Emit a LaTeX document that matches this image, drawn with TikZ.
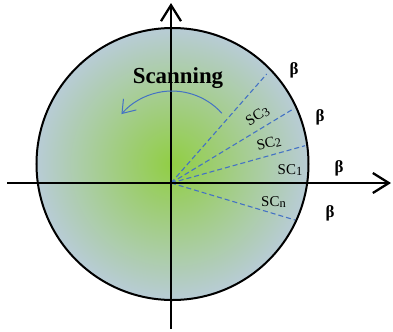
\documentclass[tikz,border=0pt]{standalone}
\usepackage{fontspec}
\setmainfont{Liberation Serif}
\usetikzlibrary{arrows.meta}
\definecolor{scanblue}{HTML}{4472C4}
\definecolor{discgreen}{RGB}{145,206,68}
\definecolor{discedge}{RGB}{184,204,214}
\newcommand\sclab[1]{SC\raisebox{-1.5bp}{\fontsize{12.5}{12.5}\selectfont #1}}
\begin{document}
\begin{tikzpicture}[x=1bp,y=-1bp,
  axisline/.style={line width=2.3bp, -{Straight Barb[length=16bp,width=20bp,line width=2.3bp]}},
  disc/.style={circle, minimum size=272bp, inner sep=0pt, inner color=discgreen, outer color=discedge, draw=black, line width=2bp},
  beam/.style={draw=scanblue, line width=1.1bp, dash pattern=on 5bp off 3bp},
  sweep/.style={draw=scanblue, line width=1bp, -{Straight Barb[length=12bp,width=17bp,line width=1bp]}},
  betalab/.style={font=\fontsize{17}{17}\selectfont\bfseries, inner sep=0pt},
  sclabel/.style={font=\fontsize{15}{15}\selectfont, inner sep=0pt},
  title/.style={font=\fontsize{23}{23}\selectfont\bfseries, inner sep=0pt}]
\useasboundingbox (0,0) rectangle (393,332);
% disc
\node[disc] (D) at (172.5,164) {};
% coordinates
\coordinate (O) at (171,183);
\coordinate (E3) at (266.7,74);
\coordinate (E2) at (292.7,109.3);
\coordinate (E1) at (305,145.7);
\coordinate (En) at (295,220);
\coordinate (XL) at (7,183);
\coordinate (XR) at (391,183);
\coordinate (YB) at (171,329);
\coordinate (YT) at (171,3);
% beams
\draw[beam] (O) -- (E3);
\draw[beam] (O) -- (E2);
\draw[beam] (O) -- (E1);
\draw[beam] (O) -- (En);
% axes
\draw[axisline] (XL) -- (XR);
\draw[axisline] (YB) -- (YT);
% scanning arrow
\coordinate (S0) at (221.8,113.2);
\draw[sweep] (S0) arc[start angle=-42, end angle=-139, radius=67];
% labels
\node[title, anchor=base] (scan) at (178,83) {Scanning};
\node[sclabel, rotate=32] (sc3) at (257.5,116) {\sclab{3}};
\node[sclabel, rotate=14] (sc2) at (269,143) {\sclab{2}};
\node[sclabel] (sc1) at (290,170) {\sclab{1}};
\node[sclabel] (scn) at (273.5,202) {\sclab{n}};
\node[betalab] (b1) at (294,70) {β};
\node[betalab] (b2) at (320,117) {β};
\node[betalab] (b3) at (339,168) {β};
\node[betalab] (b4) at (330,213) {β};
\end{tikzpicture}
\end{document}
